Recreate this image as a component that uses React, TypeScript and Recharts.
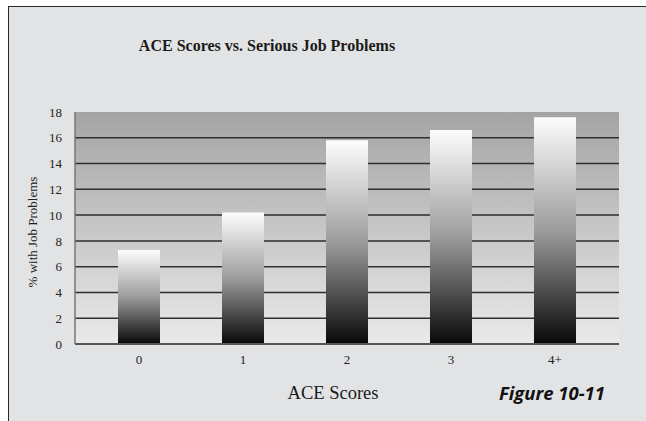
import {
    BarChart,
    Bar,
    XAxis,
    YAxis,
    CartesianGrid,
} from 'recharts'

const scores = ['0', '1', '2', '3', '4+']
const jobProblems = [7.3, 10.2, 15.8, 16.6, 17.6]
const yTicks = [0, 2, 4, 6, 8, 10, 12, 14, 16, 18]
const gridValues = [2, 4, 6, 8, 10, 12, 14, 16]

const data = scores.map((name, i) => ({ name, value: jobProblems[i] }))

const serif = '"Liberation Serif", "Times New Roman", serif'

export default function App() {
    return (
        <div style={{ position: 'absolute', left: 0, top: 0, width: 646, height: 421, background: '#fff', overflow: 'hidden' }}>
            <div
                style={{
                    position: 'absolute',
                    left: 8,
                    top: 6,
                    width: 660,
                    height: 440,
                    background: '#e2e3e5',
                    borderTop: '1.5px solid #2a2a2a',
                    borderLeft: '1.5px solid #2a2a2a',
                }}
            />
            <div style={{ position: 'absolute', left: 0, top: 0 }}>
                <BarChart
                    width={646}
                    height={421}
                    data={data}
                    margin={{ top: 112, right: 27, bottom: 47, left: 0 }}
                >
                    <defs>
                        <linearGradient id="plotBg" x1="0" y1="0" x2="0" y2="1">
                            <stop offset="0%" stopColor="#a4a4a4" />
                            <stop offset="100%" stopColor="#e9e9e9" />
                        </linearGradient>
                        <linearGradient id="barFill" x1="0" y1="0" x2="0" y2="1">
                            <stop offset="0%" stopColor="#fdfdfd" />
                            <stop offset="50%" stopColor="#9c9c9c" />
                            <stop offset="100%" stopColor="#080808" />
                        </linearGradient>
                    </defs>
                    <CartesianGrid
                        vertical={false}
                        horizontalValues={gridValues}
                        stroke="#2e2e2e"
                        strokeWidth={1.5}
                        fill="url(#plotBg)"
                        fillOpacity={1}
                    />
                    <XAxis
                        dataKey="name"
                        height={30}
                        padding={{ left: 12, right: 12 }}
                        axisLine={{ stroke: '#555', strokeWidth: 2 }}
                        tickLine={false}
                        tickMargin={5}
                        tick={{ fill: '#222', fontSize: 13, fontFamily: serif }}
                    />
                    <YAxis
                        width={75}
                        domain={[0, 18]}
                        ticks={yTicks}
                        axisLine={{ stroke: '#777', strokeWidth: 1.5 }}
                        tickLine={false}
                        tickMargin={7}
                        tick={{ fill: '#222', fontSize: 13, fontFamily: serif }}
                    />
                    <YAxis
                        yAxisId="edge"
                        orientation="right"
                        width={0}
                        domain={[0, 18]}
                        axisLine={{ stroke: '#bdbdbd', strokeWidth: 1.5 }}
                        tickLine={false}
                        tick={false}
                    />
                    <Bar dataKey="value" fill="url(#barFill)" barSize={42} isAnimationActive={false} />
                </BarChart>
            </div>
            <div
                style={{
                    position: 'absolute',
                    left: 0,
                    width: 534,
                    top: 37,
                    textAlign: 'center',
                    fontFamily: serif,
                    fontWeight: 'bold',
                    fontSize: 16,
                    color: '#1a1a1a',
                }}
            >
                ACE Scores vs. Serious Job Problems
            </div>
            <svg style={{ position: 'absolute', left: 0, top: 0 }} width={646} height={421} pointerEvents="none">
                <text
                    x={37}
                    y={232}
                    transform="rotate(-90 37 232)"
                    textAnchor="middle"
                    fontFamily={serif}
                    fontSize={13}
                    fill="#222"
                >
                    % with Job Problems
                </text>
                <text x={333} y={399} textAnchor="middle" fontFamily={serif} fontSize={18.5} fill="#1a1a1a">
                    ACE Scores
                </text>
                <text
                    x={605}
                    y={400}
                    textAnchor="end"
                    fontFamily='"Open Sans", sans-serif'
                    fontWeight="bold"
                    fontStyle="italic"
                    fontSize={18.5}
                    fill="#111"
                >
                    Figure 10-11
                </text>
            </svg>
        </div>
    )
}
